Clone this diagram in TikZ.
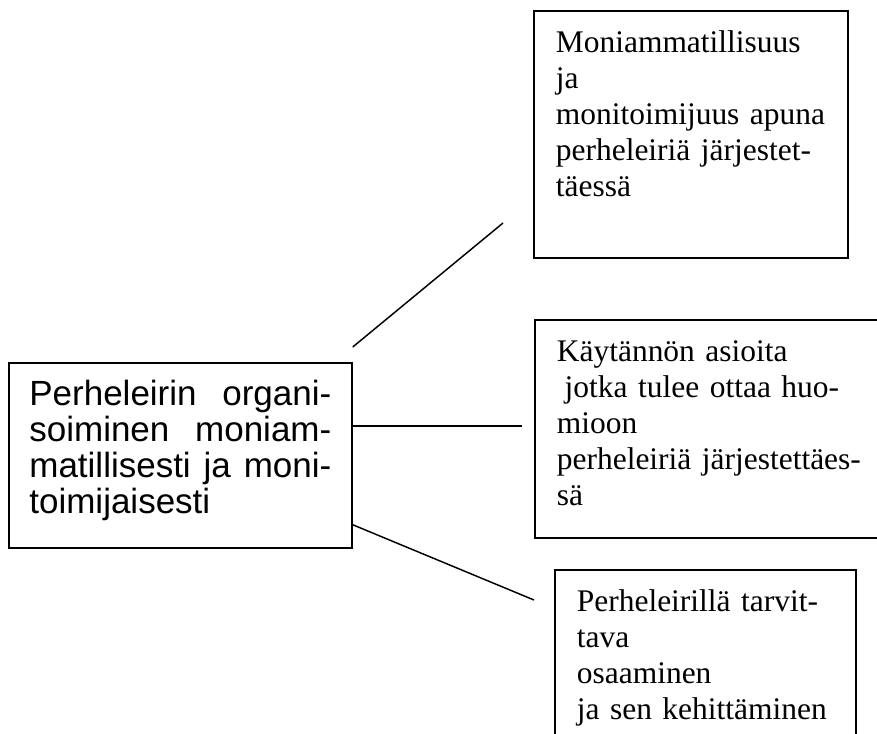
\documentclass[tikz,border=0pt]{standalone}
\usepackage{fontspec}
\setmainfont{Liberation Serif}
\setsansfont{Liberation Sans}
\usepackage{tikz}

\newcommand{\fullline}[1]{\makebox[226.5pt][s]{\spaceskip=.278em plus 1fil\relax#1}}
\newcommand{\serifstrut}{\rule[-8pt]{0pt}{27pt}}
\newcommand{\sansstrut}{\rule[-7.2pt]{0pt}{25.5pt}}

\begin{document}
\begin{tikzpicture}[x=0.75pt,y=-0.75pt,
        box/.style={draw,line width=1.3pt,anchor=north west,align=left,
          inner xsep=16.5pt,inner ysep=12.5pt,text height=19pt,
          font=\fontsize{23.6pt}{27pt}\selectfont},
        link/.style={draw,line width=1.1pt}]

  \useasboundingbox (0,0) rectangle (877,733);
  \clip (0,0) rectangle (877,733);

  \node[box,font=\sffamily\fontsize{26.25pt}{27pt}\selectfont,
        inner xsep=15.375pt,inner ysep=13.4pt,text height=18.8pt,
        text width=226.5pt,text depth=93.15pt] (org) at (8,362)
    {\sansstrut\fullline{Perheleirin organi-}\\
     \sansstrut\fullline{soiminen moniam-}\\
     \sansstrut\fullline{matillisesti ja moni-}\\
     \sansstrut toimijaisesti};

  \node[box,text width=202.5pt,text depth=141.25pt] (moni) at (533,10)
    {\serifstrut Moniammatillisuus\\
     \serifstrut ja\\
     \serifstrut\mbox{monitoimijuus apuna}\\
     \serifstrut perheleiriä järjestet-\\
     \serifstrut täessä};
  \node[box,text width=260pt,text depth=119.5pt] (kayt) at (534,319)
    {\serifstrut Käytännön asioita\\
     \serifstrut\hspace*{.25em}jotka tulee ottaa huo-\\
     \serifstrut mioon\\
     \serifstrut perheleiriä järjestettäes-\\
     \serifstrut sä};
  \node[box,text width=192.75pt,text depth=150pt] (osaa) at (554,569)
    {\serifstrut Perheleirillä tarvit-\\
     \serifstrut tava\\
     \serifstrut osaaminen\\
     \serifstrut ja sen kehittäminen};

  \coordinate (moni end) at (503,223);
  \coordinate (kayt end) at (522,426);
  \coordinate (osaa end) at (534,600);

  \path ([yshift=11.25pt]org.north east) edge[link] (moni end)
        (org.east |- kayt end)           edge[link] (kayt end)
        ([yshift=18pt]org.south east)    edge[link] (osaa end);

\end{tikzpicture}
\end{document}
